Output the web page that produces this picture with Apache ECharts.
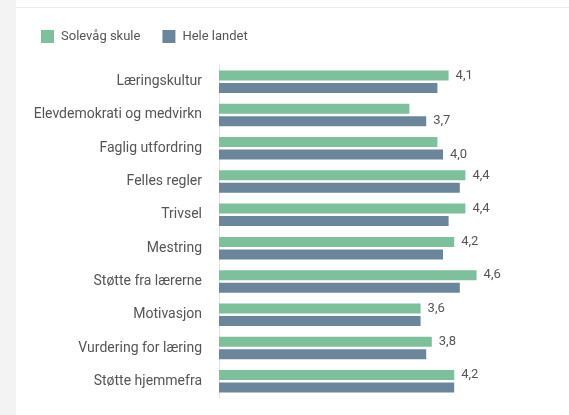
<!DOCTYPE html>
<html>
<head>
<meta charset="utf-8">
<script src="https://cdn.jsdelivr.net/npm/echarts@6/dist/echarts.min.js"></script>
<style>
    html, body { margin: 0; padding: 0; background: #fff; }
    #strip { position: absolute; left: 0; top: 0; width: 16px; height: 415px; background: #f3f3f3; }
    #card { position: absolute; left: 16px; top: 7px; width: 553px; height: 408px; border-top: 1px solid #ececec; background: #fff; }
    #main { position: absolute; left: -16px; top: -8px; width: 569px; height: 415px; }
</style>
</head>
<body>
<div id="strip"></div>
<div id="card"><div id="main"></div></div>
<script>
    var categories = ['Læringskultur', 'Elevdemokrati og medvirkn', 'Faglig utfordring', 'Felles regler',
        'Trivsel', 'Mestring', 'Støtte fra lærerne', 'Motivasjon', 'Vurdering for læring', 'Støtte hjemmefra'];
    var skule = [4.1, 3.4, 3.9, 4.4, 4.4, 4.2, 4.6, 3.6, 3.8, 4.2];
    var landet = [3.9, 3.7, 4.0, 4.3, 4.1, 4.0, 4.3, 3.6, 3.7, 4.2];

    var myChart = echarts.init(document.getElementById('main'));

    // the value label is shown only on the longer bar of each pair
    var labelStyle = {
        position: 'right',
        distance: 7,
        color: '#555',
        fontSize: 13,
        fontFamily: 'Roboto',
        formatter: function (p) {
            return p.value.toFixed(1).replace('.', ',');
        }
    };

    var skuleData = skule.map(function (v, i) {
        return { value: v, label: { show: v >= landet[i] } };
    });
    var landetData = landet.map(function (v, i) {
        return { value: v, label: { show: v > skule[i] } };
    });

    var option = {
        animation: false,
        legend: {
            left: 36,
            top: 25,
            itemWidth: 13,
            itemHeight: 13,
            itemGap: 22,
            icon: 'rect',
            textStyle: { color: '#555', fontSize: 13, fontFamily: 'Roboto', padding: [0, 0, 0, 2] },
            data: ['Solevåg skule', 'Hele landet']
        },
        grid: {
            left: 219,
            right: 70,
            top: 65,
            height: 333
        },
        xAxis: {
            type: 'value',
            min: 0,
            max: 5,
            show: false
        },
        yAxis: {
            type: 'category',
            inverse: true,
            data: categories,
            axisLine: { lineStyle: { color: '#e2e2e2' } },
            axisTick: { show: false },
            axisLabel: { color: '#555', fontSize: 14, fontFamily: 'Roboto', margin: 17 }
        },
        series: [{
            name: 'Solevåg skule',
            type: 'bar',
            barWidth: 10,
            barGap: '25%',
            itemStyle: { color: '#7dc09b' },
            label: labelStyle,
            data: skuleData
        }, {
            name: 'Hele landet',
            type: 'bar',
            barWidth: 10,
            itemStyle: { color: '#6b869b' },
            label: labelStyle,
            data: landetData
        }]
    };

    myChart.setOption(option);
</script>
</body>
</html>
